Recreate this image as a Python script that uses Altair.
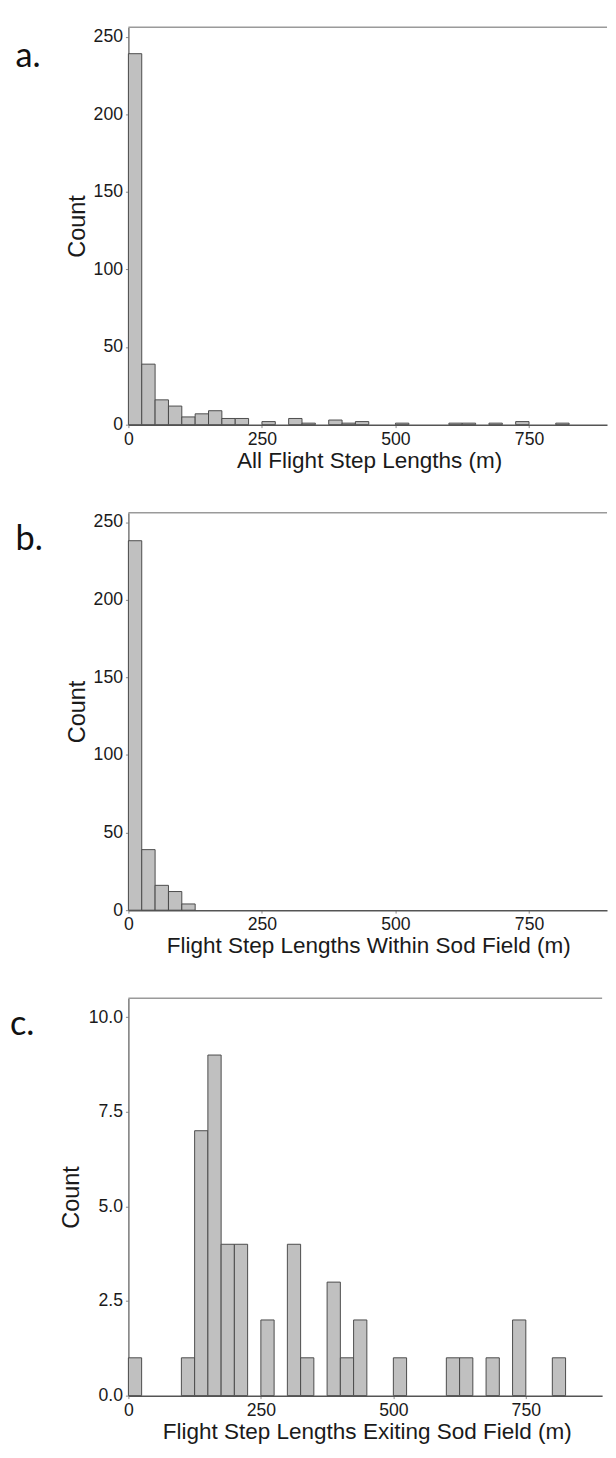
import altair as alt
import pandas as pd

# ---- data (bin start in m, count) ----
A_STARTS = [0, 25, 50, 75, 100, 125, 150, 175, 200, 250, 300, 325, 375, 400, 425, 500, 600, 625, 675, 725, 800]
A_COUNTS = [239, 39, 16, 12, 5, 7, 9, 4, 4, 2, 4, 1, 3, 1, 2, 1, 1, 1, 1, 2, 1]

B_STARTS = [0, 25, 50, 75, 100]
B_COUNTS = [238, 39, 16, 12, 4]

C_STARTS = [0, 100, 125, 150, 175, 200, 250, 300, 325, 375, 400, 425, 500, 600, 625, 675, 725, 800]
C_COUNTS = [1, 1, 7, 9, 4, 4, 2, 4, 1, 3, 1, 2, 1, 1, 1, 1, 2, 1]

BIN_W = 25
X_TICKS = [0, 250, 500, 750]
Y_TICKS_AB = [0, 50, 100, 150, 200, 250]
Y_TICKS_C = [0, 2.5, 5, 7.5, 10]

TITLES = ["All Flight Step Lengths (m)",
          "Flight Step Lengths Within Sod Field (m)",
          "Flight Step Lengths Exiting Sod Field (m)"]
LETTERS = ["a.", "b.", "c."]

FONT = "Liberation Sans"
TXT = "#1a1a1a"


def panel(starts, counts, letter, xtitle, ymax, yticks, yfmt, width, height,
          xmax, x_title_x, y_title_x, letter_x, letter_y):
    df = pd.DataFrame({"start": starts, "count": counts})
    base = alt.Chart(df).transform_calculate(end=f"datum.start + {BIN_W}")
    bars = base.mark_bar(fill="#c0c0c0", stroke="#4a4a4a", strokeWidth=1).encode(
        x=alt.X("start:Q",
                scale=alt.Scale(domain=[0, xmax], nice=False, zero=True),
                axis=alt.Axis(values=X_TICKS, format="d", title=xtitle, grid=False,
                              labelFlush=False, tickSize=3, tickColor="#888888",
                              domainColor="#555555", domainWidth=1.5,
                              labelFont=FONT, labelFontSize=18, labelColor=TXT,
                              labelPadding=3, titleFont=FONT, titleFontSize=23,
                              titleFontWeight="normal", titleColor=TXT,
                              titleX=x_title_x, titleY=43.5,
                              titleBaseline="alphabetic")),
        x2="end:Q",
        y=alt.Y("count:Q",
                scale=alt.Scale(domain=[0, ymax], nice=False),
                axis=alt.Axis(values=yticks, format=yfmt, title="Count", grid=False,
                              labelFlush=False, tickSize=3, tickColor="#888888",
                              domainColor="#777777", domainWidth=1.5,
                              labelFont=FONT, labelFontSize=18, labelColor=TXT,
                              labelPadding=3, titleFont=FONT, titleFontSize=24,
                              titleFontWeight="normal", titleColor=TXT,
                              titleX=y_title_x, titleAngle=270,
                              titleBaseline="middle")),
        y2=alt.datum(0),
    )
    border = alt.Chart(alt.Data(values=[{"k": 0}])).mark_rule(
        color="#9a9a9a", strokeWidth=1.5
    ).encode(x=alt.value(0), x2=alt.value(width), y=alt.value(0))
    lab = alt.Chart(alt.Data(values=[{"t": letter}])).mark_text(
        font="Lato", fontSize=35, color="#111111", align="left", baseline="alphabetic"
    ).encode(text="t:N", x=alt.value(letter_x), y=alt.value(letter_y))
    return alt.layer(bars, border, lab).properties(width=width, height=height)


pa = panel(A_STARTS, A_COUNTS, LETTERS[0], TITLES[0], 256, Y_TICKS_AB, "d",
           489, 406, 896, 246, -51.5, -115.3, 41)
pb = panel(B_STARTS, B_COUNTS, LETTERS[1], TITLES[1], 256, Y_TICKS_AB, "d",
           489, 406, 896, 245, -51.5, -115.3, 38.5)
pc = panel(C_STARTS, C_COUNTS, LETTERS[2], TITLES[2], 10.5, Y_TICKS_C, ".1f",
           484, 406, 894, 243.5, -57.5, -121, 38)

chart = alt.vconcat(pa, pb, pc, spacing=40).properties(
    padding={"left": 2, "top": 3, "right": 0, "bottom": 0},
    background="white",
).configure_view(strokeWidth=0)

chart.save("out.html", embed_options={"renderer": "svg", "actions": False})
